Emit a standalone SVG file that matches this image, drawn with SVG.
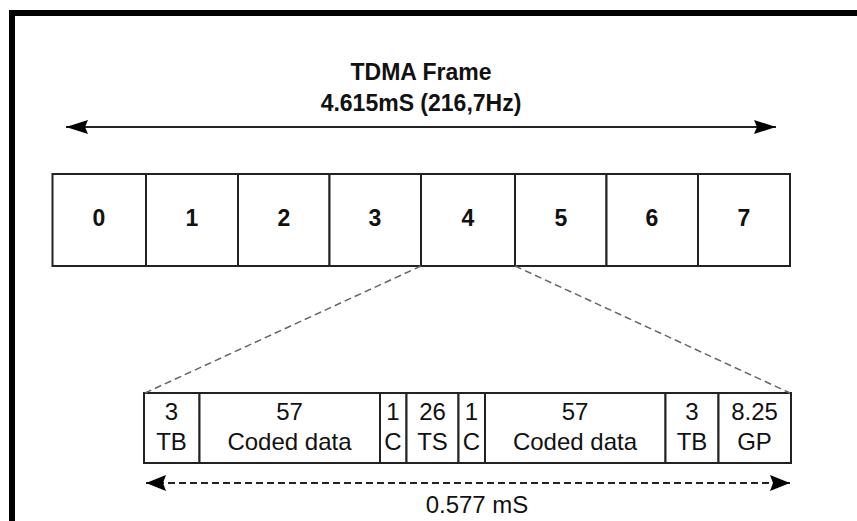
<svg xmlns="http://www.w3.org/2000/svg" width="857" height="521" viewBox="0 0 857 521">
  <defs>
    <marker id="headEnd" viewBox="0 0 22 14" refX="22" refY="7" markerUnits="userSpaceOnUse" markerWidth="22" markerHeight="14" orient="auto">
      <path d="M0,0 L22,7 L0,14 L3,7 Z" fill="#000"/>
    </marker>
    <marker id="headStart" viewBox="0 0 22 14" refX="0" refY="7" markerUnits="userSpaceOnUse" markerWidth="22" markerHeight="14" orient="auto">
      <path d="M22,0 L0,7 L22,14 L19,7 Z" fill="#000"/>
    </marker>
    <marker id="smallEnd" viewBox="0 0 20 16" refX="20" refY="8" markerUnits="userSpaceOnUse" markerWidth="20" markerHeight="16" orient="auto">
      <path d="M0,0 L20,8 L0,16 L3,8 Z" fill="#000"/>
    </marker>
    <marker id="smallStart" viewBox="0 0 20 16" refX="0" refY="8" markerUnits="userSpaceOnUse" markerWidth="20" markerHeight="16" orient="auto">
      <path d="M20,0 L0,8 L20,16 L17,8 Z" fill="#000"/>
    </marker>
  </defs>
  <style>
    .cell { fill: #fff; stroke: #222; stroke-width: 2; }
    .title { font-family: "Liberation Sans", Arial, sans-serif; font-weight: bold; font-size: 23px; fill: #111; text-anchor: middle; }
    .slot { font-family: "Liberation Sans", Arial, sans-serif; font-weight: bold; font-size: 23px; fill: #111; text-anchor: middle; }
    .field { font-family: "Liberation Sans", Arial, sans-serif; font-size: 24px; fill: #111; text-anchor: middle; }
    .zoom { stroke: #666; stroke-width: 1.5; stroke-dasharray: 7 4; fill: none; }
  </style>

  <rect x="0" y="0" width="857" height="521" fill="#fff"/>
  <!-- outer frame, open to the right and bottom -->
  <path d="M12,530 L12,13 L870,13" fill="none" stroke="#000" stroke-width="6"/>

  <!-- heading -->
  <g id="heading">
    <text class="title" x="421" y="80">TDMA Frame</text>
    <text class="title" x="421" y="111">4.615mS (216,7Hz)</text>
  </g>

  <!-- frame of eight timeslots -->
  <g id="slot0"><rect class="cell" x="52.5" y="174" width="93.5" height="92"/><text class="slot" x="99" y="226">0</text></g>
  <g id="slot1"><rect class="cell" x="146" y="174" width="92" height="92"/><text class="slot" x="192" y="226">1</text></g>
  <g id="slot2"><rect class="cell" x="238" y="174" width="91.5" height="92"/><text class="slot" x="284" y="226">2</text></g>
  <g id="slot3"><rect class="cell" x="329.5" y="174" width="91.5" height="92"/><text class="slot" x="375" y="226">3</text></g>
  <g id="slot4"><rect class="cell" x="421" y="174" width="94" height="92"/><text class="slot" x="468" y="226">4</text></g>
  <g id="slot5"><rect class="cell" x="515" y="174" width="91.5" height="92"/><text class="slot" x="561" y="226">5</text></g>
  <g id="slot6"><rect class="cell" x="606.5" y="174" width="91.5" height="92"/><text class="slot" x="652" y="226">6</text></g>
  <g id="slot7"><rect class="cell" x="698" y="174" width="92" height="92"/><text class="slot" x="744" y="226">7</text></g>

  <!-- normal burst fields -->
  <g id="tb1"><rect class="cell" x="144" y="393" width="55.5" height="70"/><text class="field" x="171.5" y="420">3</text><text class="field" x="171.5" y="450">TB</text></g>
  <g id="data1"><rect class="cell" x="199.5" y="393" width="180.5" height="70"/><text class="field" x="289.5" y="420">57</text><text class="field" x="289.5" y="450">Coded data</text></g>
  <g id="c1"><rect class="cell" x="380" y="393" width="26.5" height="70"/><text class="field" x="393" y="420">1</text><text class="field" x="393" y="450">C</text></g>
  <g id="ts"><rect class="cell" x="406.5" y="393" width="52" height="70"/><text class="field" x="432.5" y="420">26</text><text class="field" x="432.5" y="450">TS</text></g>
  <g id="c2"><rect class="cell" x="458.5" y="393" width="26.5" height="70"/><text class="field" x="471.5" y="420">1</text><text class="field" x="471.5" y="450">C</text></g>
  <g id="data2"><rect class="cell" x="485" y="393" width="180.5" height="70"/><text class="field" x="575" y="420">57</text><text class="field" x="575" y="450">Coded data</text></g>
  <g id="tb2"><rect class="cell" x="665.5" y="393" width="53" height="70"/><text class="field" x="692" y="420">3</text><text class="field" x="692" y="450">TB</text></g>
  <g id="gp"><rect class="cell" x="718.5" y="393" width="72.5" height="70"/><text class="field" x="754.5" y="420">8.25</text><text class="field" x="754.5" y="450">GP</text></g>

  <g id="burstLength">
    <text class="field" x="477" y="513">0.577 mS</text>
  </g>

  <!-- connectors -->
  <g id="connectors">
    <line x1="66" y1="127" x2="776" y2="127" stroke="#222" stroke-width="2" marker-start="url(#headStart)" marker-end="url(#headEnd)"/>
    <line class="zoom" x1="421" y1="266" x2="145" y2="393"/>
    <line class="zoom" x1="515" y1="266" x2="790" y2="393"/>
    <line x1="146" y1="483" x2="790" y2="483" stroke="#222" stroke-width="1.8" stroke-dasharray="7 4" marker-start="url(#smallStart)" marker-end="url(#smallEnd)"/>
  </g>
</svg>
